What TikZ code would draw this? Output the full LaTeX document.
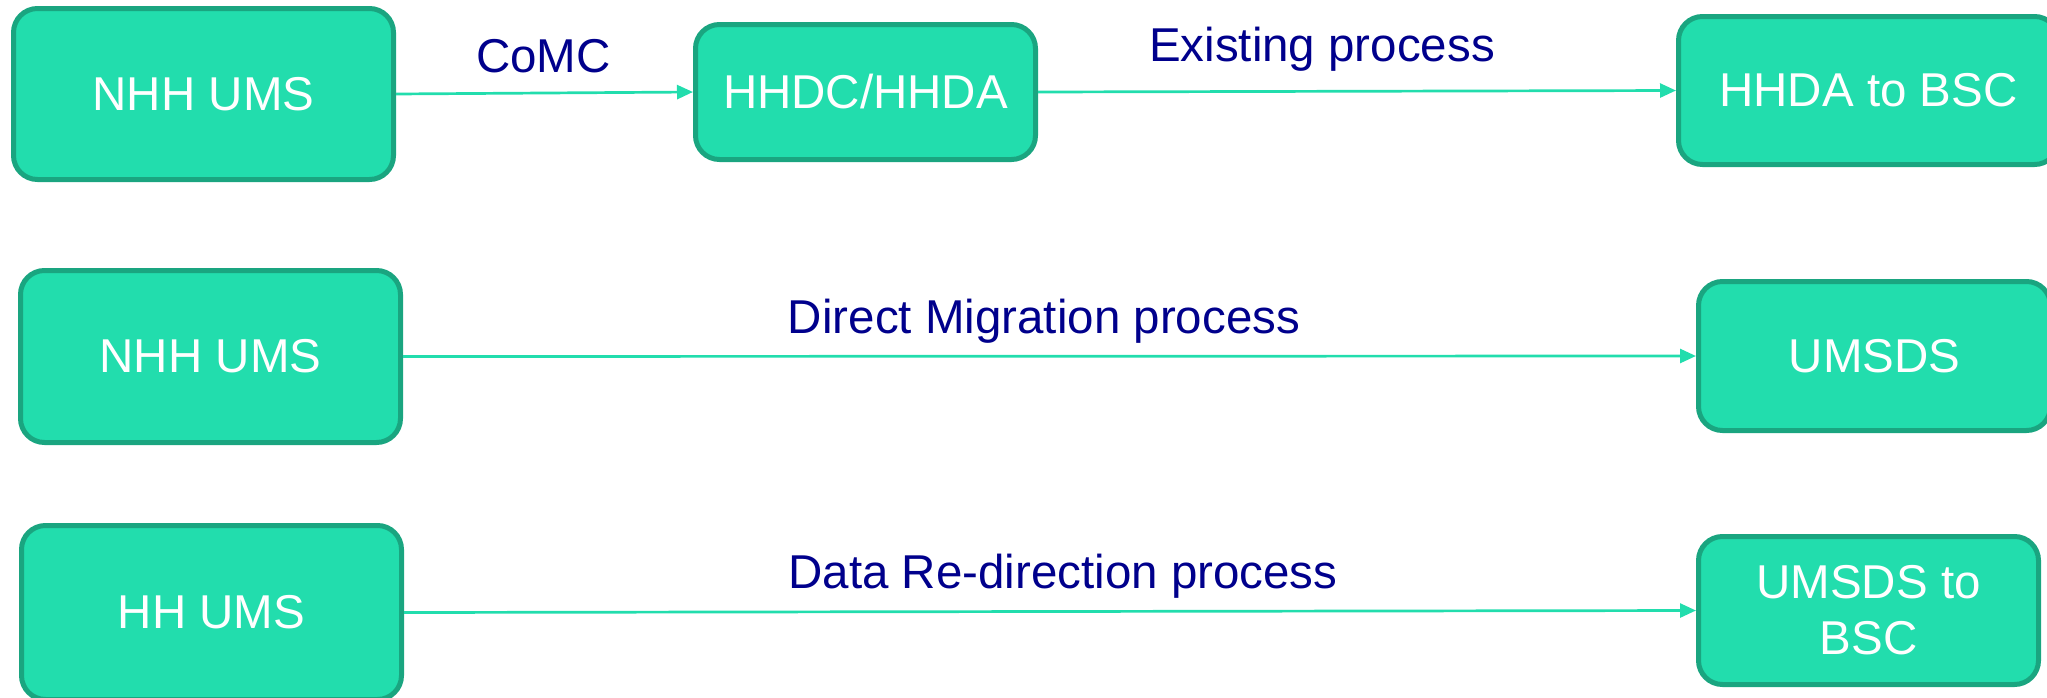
\documentclass[tikz,border=0pt]{standalone}
\usepackage{fontspec}
\setmainfont{Liberation Sans}
\usetikzlibrary{arrows.meta}
\definecolor{boxfill}{RGB}{34,221,173}
\definecolor{boxline}{RGB}{26,165,128}
\definecolor{labelblue}{RGB}{0,0,140}
\begin{document}
\begin{tikzpicture}[x=0.5pt,y=-0.5pt,
  box/.style={draw=boxline, fill=boxfill, line width=2.5pt, rounded corners=12pt,
    text=white, inner sep=0pt, align=center, font=\fontsize{23.75}{28}\selectfont},
  flow/.style={draw=boxfill, line width=1.35pt, -{Triangle[length=8pt,width=7pt]}},
  lbl/.style={text=labelblue, inner sep=0pt, anchor=base, font=\fontsize{23.75}{28}\selectfont}]
\useasboundingbox (0,0) rectangle (2047,697);
% row 1
\node[box, minimum width=190pt, minimum height=85.5pt] (a1) at (203.5,94) {NHH UMS};
\node[box, minimum width=170pt, minimum height=67.5pt] (b1) at (865.5,92) {HHDC/HHDA};
\node[box, minimum width=190pt, minimum height=74pt] (c1) at (1868.5,90.5) {HHDA to BSC};
% row 2
\node[box, minimum width=190pt, minimum height=86pt] (a2) at (210.5,356.5) {NHH UMS};
\node[box, minimum width=176pt, minimum height=74.5pt] (c2) at (1874.5,356) {UMSDS};
% row 3
\node[box, minimum width=190pt, minimum height=87pt] (a3) at (211.5,612.5) {HH UMS};
\node[box, minimum width=170pt, minimum height=74pt] (c3) at (1868.5,610.5) {UMSDS to\\BSC};
% connectors
\draw[flow] (a1.east) -- (b1.west);
\draw[flow] (b1.east) -- (c1.west);
\draw[flow] (a2.east) -- (c2.west);
\draw[flow] (a3.east) -- (c3.west);
% labels
\node[lbl] (l1) at (543.5,72) {CoMC};
\node[lbl] (l2) at (1322,61) {Existing process};
\node[lbl] (l3) at (1044,333) {Direct Migration process};
\node[lbl] (l4) at (1063,588) {Data Re-direction process};
\end{tikzpicture}
\end{document}
